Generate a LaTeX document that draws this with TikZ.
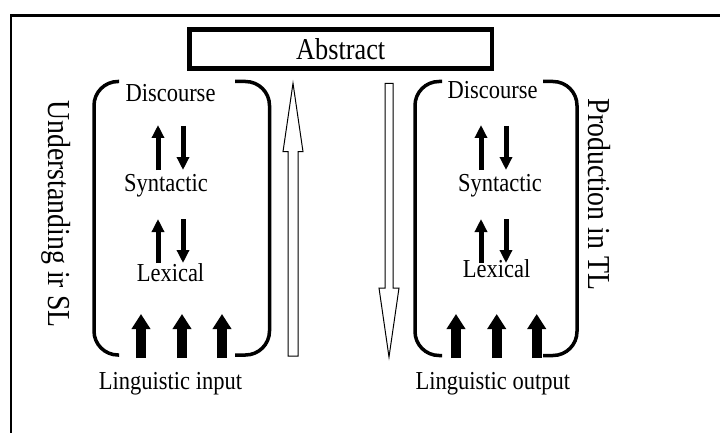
\documentclass[tikz,border=0pt]{standalone}
\usepackage{fontspec}
\setmainfont{Liberation Serif}
\usetikzlibrary{arrows.meta}
\newcommand{\vs}[1]{\scalebox{1}[1.15]{#1}}
\begin{document}
\begin{tikzpicture}[x=1pt,y=-1pt,
  lbl/.style={inner sep=0pt, anchor=base, font=\fontsize{22.5}{24}\selectfont},
  side/.style={inner sep=0pt, anchor=base, rotate=-90, font=\fontsize{27.8}{30}\selectfont},
  bracket/.style={line width=3.5pt, rounded corners=24pt},
  smallarr/.style={line width=5pt, -{Triangle[width=12pt,length=13pt]}},
  bigarr/.style={line width=10pt, -{Triangle[width=18pt,length=15pt]}},
  hollow/.style={draw, line width=1pt, fill=white, line join=miter},
]
\useasboundingbox (0,0) rectangle (720,433);
% outer frame (cropped)
\draw[line width=2.3pt] (10.7,433) -- (10.7,15.5) -- (720,15.5);
% abstract box
\node[draw, line width=4.5pt, minimum width=302.5pt, minimum height=39pt, inner sep=0pt,
      font=\fontsize{26.3}{28}\selectfont] (abs) at (340.75,49) {\vs{Abstract}};
% brackets
\draw[bracket] (119,81.5) -- (94,81.5) -- (94,355) -- (119,355);
\draw[bracket] (235,81.5) -- (269.5,81.5) -- (269.5,355) -- (235,355);
\draw[bracket] (442,81.5) -- (415,81.5) -- (415,355.5) -- (442,355.5);
\draw[bracket] (543,81.5) -- (577,81.5) -- (577,355.5) -- (543,355.5);
% hollow arrows
\draw[hollow] (288,356) -- (288,151.7) -- (283,151.7) -- (293,83.3) -- (303,151.7) -- (298,151.7) -- (298,356) -- cycle;
\draw[hollow] (385,83.3) -- (393,83.3) -- (393,288) -- (399,288) -- (389,357) -- (379,288) -- (385,288) -- cycle;
% labels
\node[lbl] (disL) at (170.5,101.7) {\vs{Discourse}};
\node[lbl] (synL) at (166,191.7) {\vs{Syntactic}};
\node[lbl] (lexL) at (170.5,281) {\vs{Lexical}};
\node[lbl] (inL) at (170.5,389) {\vs{Linguistic input}};
\node[lbl] (disR) at (492.7,98.3) {\vs{Discourse}};
\node[lbl] (synR) at (500,191.7) {\vs{Syntactic}};
\node[lbl] (lexR) at (496.7,277.7) {\vs{Lexical}};
\node[lbl] (outR) at (492.8,389) {\vs{Linguistic output}};
\node[side] (und) at (48.5,214) {\vs{Understanding ir SL}};
\node[side] (prod) at (588.5,194.5) {\vs{Production in TL}};
% small arrow end points
\coordinate (lu1a) at (158,170); \coordinate (lu1b) at (158,125);
\coordinate (ld1a) at (183,126); \coordinate (ld1b) at (183,170);
\coordinate (lu2a) at (158,263); \coordinate (lu2b) at (158,219);
\coordinate (ld2a) at (183,219); \coordinate (ld2b) at (183,263);
\coordinate (ru1a) at (481,170); \coordinate (ru1b) at (481,125);
\coordinate (rd1a) at (506,126); \coordinate (rd1b) at (506,170);
\coordinate (ru2a) at (481,263); \coordinate (ru2b) at (481,219);
\coordinate (rd2a) at (506,219); \coordinate (rd2b) at (506,263);
\foreach \a/\b in {lu1a/lu1b,ld1a/ld1b,lu2a/lu2b,ld2a/ld2b,ru1a/ru1b,rd1a/rd1b,ru2a/ru2b,rd2a/rd2b}
  \draw[smallarr] (\a) -- (\b);
% big input/output arrows
\foreach \n/\x in {L1/141,L2/182,L3/222,R1/456,R2/496.7,R3/536.7}{
  \coordinate (b\n) at (\x,358);
  \coordinate (t\n) at (\x,314);
  \draw[bigarr] (b\n) -- (t\n);
}
\end{tikzpicture}
\end{document}
